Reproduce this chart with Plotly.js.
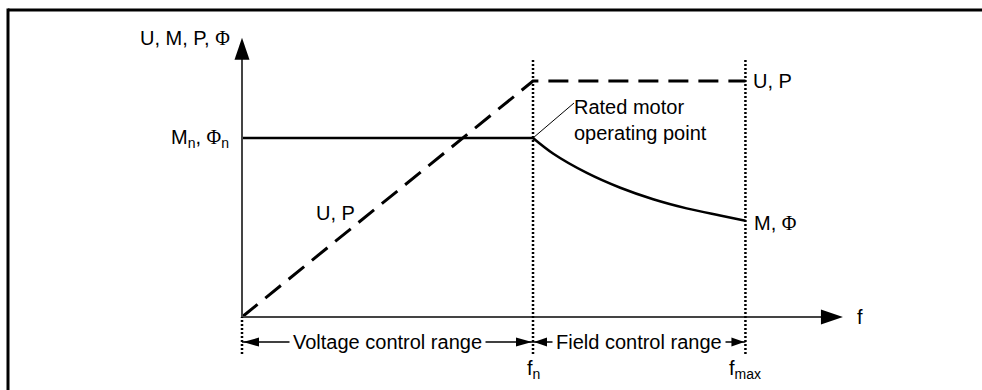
<!DOCTYPE html>
<html>
<head>
<meta charset="utf-8">
<script src="https://cdn.plot.ly/plotly-3.0.1.min.js"></script>
<style>html,body{margin:0;padding:0;background:#fff;overflow:hidden}</style>
</head>
<body>
<div id="chart" style="width:982px;height:390px"></div>
<script>
// Frequency in units of the rated frequency fn; magnitudes relative to rated torque / flux.
const F_N = 1.0;
const F_MAX = 1.73;
const F_AXIS_END = 2.065;   // tip of the frequency axis arrow
const Y_AXIS_END = 1.56;    // tip of the magnitude axis arrow
const U_RATED = 1.318;      // voltage / power level reached at fn

// U, P: rise linearly up to fn, then stay constant
const upF   = [0, F_N, F_MAX];
const upVal = [0, U_RATED, U_RATED];

// M, Φ: constant up to fn, then falling in the field weakening range
const mF   = [0, 1.0, 1.07, 1.185, 1.30, 1.413, 1.528, 1.643, 1.73];
const mVal = [1.0, 1.0, 0.912, 0.805, 0.722, 0.658, 0.607, 0.567, 0.538];

// control ranges and frequency marks below the axis
const rangeEdges = [0, F_N, F_MAX];
const rangeNames = ['Voltage control range', 'Field control range'];
const freqTicks  = ['f<sub>n</sub>', 'f<sub>max</sub>'];

const PHI = '<span style="font-family:Liberation Serif">Φ</span>';
const FONT = {family: 'Liberation Sans, Arial, sans-serif', size: 20, color: '#000'};

const Y_RANGE_ROW = -0.14;   // level of the range arrows
const Y_TICK_ROW = -0.296;   // level of the fn / fmax labels
const Y_DOT_LOW = -0.207;    // lower end of the dotted markers
const Y_DOT_HIGH = 1.44;     // upper end of the dotted markers

const traces = [
  {x: upF, y: upVal, mode: 'lines',
   line: {color: '#000', width: 3, dash: '20px,10px'}},
  {x: mF.slice(0, 2), y: mVal.slice(0, 2), mode: 'lines',
   line: {color: '#000', width: 2.5}},
  {x: mF.slice(1), y: mVal.slice(1), mode: 'lines',
   line: {color: '#000', width: 2.5, shape: 'spline', smoothing: 1}}
];

const shapes = [];
// outer frame: left and top edges
const FRAME_X = 8 / 982, FRAME_Y = 1 - 10 / 390;
shapes.push({type: 'line', xref: 'paper', yref: 'paper',
  x0: FRAME_X, x1: FRAME_X, y0: -0.1, y1: FRAME_Y + 1.5 / 390,
  line: {color: '#000', width: 3}});
shapes.push({type: 'line', xref: 'paper', yref: 'paper',
  x0: FRAME_X, x1: 1.1, y0: FRAME_Y, y1: FRAME_Y,
  line: {color: '#000', width: 3}});

// axes
const axisLine = {color: '#444', width: 2};
shapes.push({type: 'line', x0: 0, x1: F_AXIS_END - 0.05, y0: 0, y1: 0, line: axisLine});
shapes.push({type: 'line', x0: 0, x1: 0, y0: 0, y1: Y_AXIS_END - 0.08, line: axisLine});
shapes.push({type: 'path', xsizemode: 'pixel', ysizemode: 'pixel',
  xanchor: F_AXIS_END, yanchor: 0, path: 'M 0 0 L -22 7.5 L -22 -7.5 Z',
  fillcolor: '#000', line: {width: 0}});
shapes.push({type: 'path', xsizemode: 'pixel', ysizemode: 'pixel',
  xanchor: 0, yanchor: Y_AXIS_END, path: 'M 0 0 L -7.5 -22 L 7.5 -22 Z',
  fillcolor: '#000', line: {width: 0}});

// dotted range boundaries
rangeEdges.forEach((f, i) => {
  shapes.push({type: 'line', x0: f, x1: f, y0: Y_DOT_LOW, y1: i === 0 ? 0 : Y_DOT_HIGH,
    line: {color: '#000', width: 2.5, dash: '2px,2px'}});
});

// range arrows
for (let i = 0; i < rangeNames.length; i++) {
  const a = rangeEdges[i], b = rangeEdges[i + 1];
  const len = i === 0 ? 17 : 14;
  shapes.push({type: 'line', x0: a, x1: b, y0: Y_RANGE_ROW, y1: Y_RANGE_ROW,
    line: {color: '#000', width: 1.5}});
  shapes.push({type: 'path', xsizemode: 'pixel', ysizemode: 'pixel',
    xanchor: a, yanchor: Y_RANGE_ROW, path: `M 1 0 L ${len} 4.5 L ${len} -4.5 Z`,
    fillcolor: '#000', line: {width: 0}});
  shapes.push({type: 'path', xsizemode: 'pixel', ysizemode: 'pixel',
    xanchor: b, yanchor: Y_RANGE_ROW, path: `M -1 0 L ${-len} 4.5 L ${-len} -4.5 Z`,
    fillcolor: '#000', line: {width: 0}});
}

// leader line to the rated operating point
shapes.push({type: 'line', xsizemode: 'pixel', ysizemode: 'pixel',
  xanchor: F_N, yanchor: mVal[1], x0: 0, x1: 41, y0: 0, y1: 35,
  line: {color: '#000', width: 1}});

const ann = (o) => Object.assign({showarrow: false, font: FONT, xref: 'x', yref: 'y'}, o);
const annotations = [
  ann({x: 0, y: Y_AXIS_END, text: 'U, M, P, ' + PHI, xanchor: 'right', xshift: -10, yanchor: 'middle'}),
  ann({x: 0, y: mVal[0], text: 'M<sub>n</sub>, ' + PHI + '<sub>n</sub>', xanchor: 'right', xshift: -11, yanchor: 'middle'}),
  ann({x: F_MAX, y: U_RATED, text: 'U, P', xanchor: 'left', xshift: 6, yanchor: 'middle'}),
  ann({x: F_MAX, y: mVal[mVal.length - 1], text: 'M, ' + PHI, xanchor: 'left', xshift: 7, yanchor: 'middle', yshift: -2}),
  ann({x: 0.323, y: 0.58, text: 'U, P', xanchor: 'center', yanchor: 'middle'}),
  ann({x: F_N, y: mVal[1], text: 'Rated motor<br>operating point', xanchor: 'left', align: 'left',
       xshift: 39, yanchor: 'middle', yshift: 18}),
  ann({x: F_AXIS_END, y: 0, text: 'f', xanchor: 'left', xshift: 12, yanchor: 'middle'})
];
rangeNames.forEach((name, i) => {
  annotations.push(ann({x: (rangeEdges[i] + rangeEdges[i + 1]) / 2, y: Y_RANGE_ROW,
    text: name, bgcolor: '#fff', borderpad: 3, xanchor: 'center', yanchor: 'middle'}));
});
freqTicks.forEach((t, i) => {
  annotations.push(ann({x: rangeEdges[i + 1], y: Y_TICK_ROW, text: t,
    xanchor: 'center', yanchor: 'middle'}));
});

const layout = {
  width: 982, height: 390,
  margin: {l: 0, r: 0, t: 0, b: 0, pad: 0},
  paper_bgcolor: '#fff', plot_bgcolor: '#fff',
  showlegend: false,
  xaxis: {range: [-242 / 291, 740 / 291], visible: false, fixedrange: true},
  yaxis: {range: [-73 / 179, 317 / 179], visible: false, fixedrange: true},
  shapes: shapes,
  annotations: annotations,
  font: FONT
};

Plotly.newPlot('chart', traces, layout, {staticPlot: true, displayModeBar: false});
</script>
</body>
</html>
